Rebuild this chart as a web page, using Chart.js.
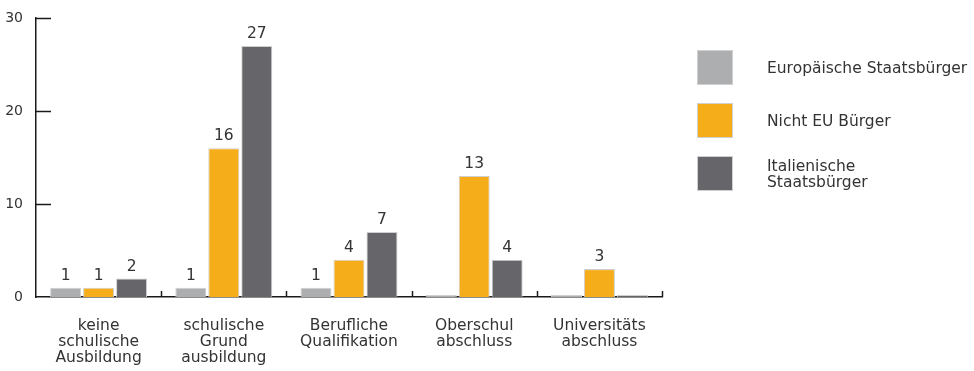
<!DOCTYPE html>
<html>
<head>
<meta charset="utf-8">
<script src="https://cdn.jsdelivr.net/npm/chart.js@4.4.1/dist/chart.umd.min.js"></script>
<style>
  html, body { margin: 0; padding: 0; background: #fff; }
  #wrap { position: relative; width: 974px; height: 371px; }
  #legend { position: absolute; left: 697px; top: 50px; font-family: "DejaVu Sans", sans-serif; font-size: 15.5px; color: #333; }
  .item { position: relative; height: 53px; }
  .box { position: absolute; left: 0; top: 0; width: 36px; height: 35px; box-sizing: border-box; border: 1px solid #d0d0d0; }
  .txt { position: absolute; left: 70px; top: 0; height: 35px; display: flex; align-items: center; line-height: 16px; white-space: nowrap; }
</style>
</head>
<body>
<div id="wrap">
  <canvas id="chart" width="974" height="371"></canvas>
  <div id="legend"></div>
</div>
<script>
const categories = [
  ['keine', 'schulische', 'Ausbildung'],
  ['schulische', 'Grund', 'ausbildung'],
  ['Berufliche', 'Qualifikation'],
  ['Oberschul', 'abschluss'],
  ['Universitäts', 'abschluss']
];
const europaeer = [1, 1, 1, 0, 0];
const nichtEu = [1, 16, 4, 13, 3];
const italiener = [2, 27, 7, 4, 0];
const seriesNames = ['Europäische Staatsbürger', 'Nicht EU Bürger', 'Italienische<br>Staatsbürger'];
const colors = ['#adaeb0', '#f5ae1a', '#666569'];
const yTicks = [0, 10, 20, 30];

const FONT = '"DejaVu Sans", sans-serif';

// legend built as html so the last label can wrap on two lines
const legend = document.getElementById('legend');
seriesNames.forEach((name, i) => {
  legend.innerHTML += '<div class="item"><div class="box" style="background:' + colors[i] + '"></div><div class="txt">' + name + '</div></div>';
});

// value labels above bars and the short inward tick marks
const extras = {
  id: 'extras',
  afterDatasetsDraw(chart) {
    const ctx = chart.ctx;
    ctx.save();
    ctx.font = '15.5px ' + FONT;
    ctx.fillStyle = '#333';
    ctx.textAlign = 'center';
    ctx.textBaseline = 'bottom';
    chart.data.datasets.forEach((ds, di) => {
      chart.getDatasetMeta(di).data.forEach((bar, i) => {
        if (ds.data[i] > 0) ctx.fillText(ds.data[i], bar.x, bar.y - 4);
      });
    });

    const y = chart.scales.y, x = chart.scales.x;
    ctx.strokeStyle = '#1a1a1a';
    ctx.lineWidth = 1.5;
    yTicks.forEach(v => {
      if (v === 0) return;
      const py = Math.round(y.getPixelForValue(v)) + 0.5;
      ctx.beginPath();
      ctx.moveTo(x.left, py);
      ctx.lineTo(x.left + 15, py);
      ctx.stroke();
    });
    const step = (x.right - x.left) / categories.length;
    for (let i = 1; i <= categories.length; i++) {
      const px = Math.round(x.left + step * i) + 0.5;
      ctx.beginPath();
      ctx.moveTo(px, y.bottom);
      ctx.lineTo(px, y.bottom - 6);
      ctx.stroke();
    }
    ctx.restore();
  }
};

new Chart(document.getElementById('chart'), {
  type: 'bar',
  data: {
    labels: categories,
    datasets: [europaeer, nichtEu, italiener].map((d, i) => ({
      label: seriesNames[i],
      data: d,
      backgroundColor: colors[i],
      borderColor: '#cfcfcf',
      borderWidth: 1,
      minBarLength: 2,
      categoryPercentage: 0.79,
      barPercentage: 0.94
    }))
  },
  options: {
    responsive: false,
    animation: false,
    layout: { padding: { top: 18, right: 312, left: 0, bottom: 0 } },
    plugins: { legend: { display: false }, tooltip: { enabled: false } },
    scales: {
      x: {
        grid: { display: false, drawTicks: false },
        border: { display: true, color: '#1a1a1a', width: 1.5 },
        ticks: { color: '#333', font: { family: FONT, size: 15.5, lineHeight: 1.03 }, padding: 21, maxRotation: 0, autoSkip: false },
        afterFit(s) { s.height = 74; s.paddingLeft = 0; s.paddingRight = 0; }
      },
      y: {
        min: 0,
        max: 30,
        afterBuildTicks(s) { s.ticks = yTicks.map(v => ({ value: v })); },
        grid: { display: false, drawTicks: false },
        border: { display: true, color: '#1a1a1a', width: 1.5 },
        ticks: { color: '#333', font: { family: FONT, size: 14 }, padding: 13 },
        afterFit(s) { s.width = 36; s.paddingTop = 0; s.paddingBottom = 0; }
      }
    }
  },
  plugins: [extras]
});
</script>
</body>
</html>
